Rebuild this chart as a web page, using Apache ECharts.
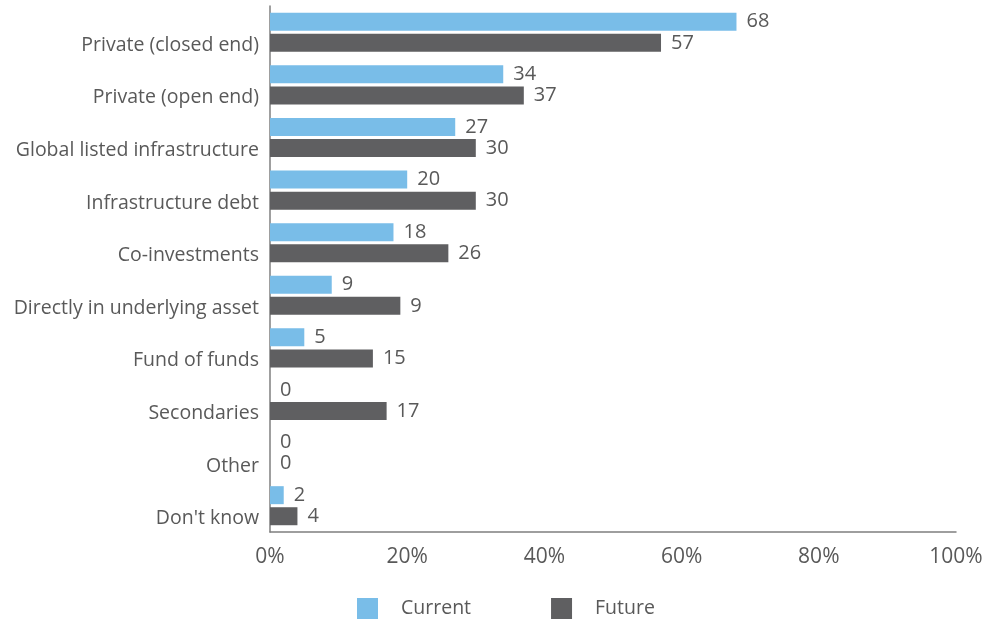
<!DOCTYPE html>
<html><head><meta charset="utf-8">
<script src="https://cdn.jsdelivr.net/npm/echarts@6/dist/echarts.min.js"></script>
<style>html,body{margin:0;padding:0;background:#fff}#c{width:999px;height:624px}</style>
</head><body><div id="c"></div>
<script>
const categories = ["Private (closed end)","Private (open end)","Global listed infrastructure","Infrastructure debt","Co-investments","Directly in underlying asset","Fund of funds","Secondaries","Other","Don't know"];
const currentValues = [68,34,27,20,18,9,5,0,0,2];
const futureValues = [57,37,30,30,26,19,15,17,0,4];
const currentLabels = ["68","34","27","20","18","9","5","0","0","2"];
const futureLabels = ["57","37","30","30","26","9","15","17","0","4"];
const xTicks = [0,20,40,60,80,100];

const font = "'Open Sans', sans-serif";
const chart = echarts.init(document.getElementById('c'));
const mkLbl = (arr) => ({show:true, position:'right', distance:10, color:'#595959', fontSize:20, fontFamily:font,
  formatter: p => arr[p.dataIndex]});
chart.setOption({
  animation:false,
  grid:{left:270, right:43, top:6, bottom:92, containLabel:false},
  legend:{
    left:352, top:593, itemWidth:21, itemHeight:21, itemGap:80,
    icon:'rect',
    textStyle:{color:'#595959', fontSize:19.5, fontFamily:font, padding:[0,0,0,18]},
    data:['Current','Future']
  },
  xAxis:{
    type:'value', min:xTicks[0], max:xTicks[xTicks.length-1], interval:20,
    axisLine:{show:true, lineStyle:{color:'#7f7f7f', width:1.5}},
    axisTick:{show:false}, splitLine:{show:false},
    axisLabel:{formatter:'{value}%', color:'#595959', fontSize:21, fontFamily:font, margin:15}
  },
  yAxis:{
    type:'category', data:categories, inverse:true,
    axisLine:{show:true, lineStyle:{color:'#7f7f7f', width:1.5}},
    axisTick:{show:false},
    axisLabel:{color:'#595959', fontSize:19.5, fontFamily:font, margin:11, verticalAlign:'top', lineHeight:26}
  },
  series:[
    {name:'Current', type:'bar', data:currentValues, barWidth:18, barGap:'17%', itemStyle:{color:'#79BDE8'}, label:mkLbl(currentLabels)},
    {name:'Future', type:'bar', data:futureValues, barWidth:18, itemStyle:{color:'#5F5F61'}, label:mkLbl(futureLabels)}
  ]
});
</script></body></html>
